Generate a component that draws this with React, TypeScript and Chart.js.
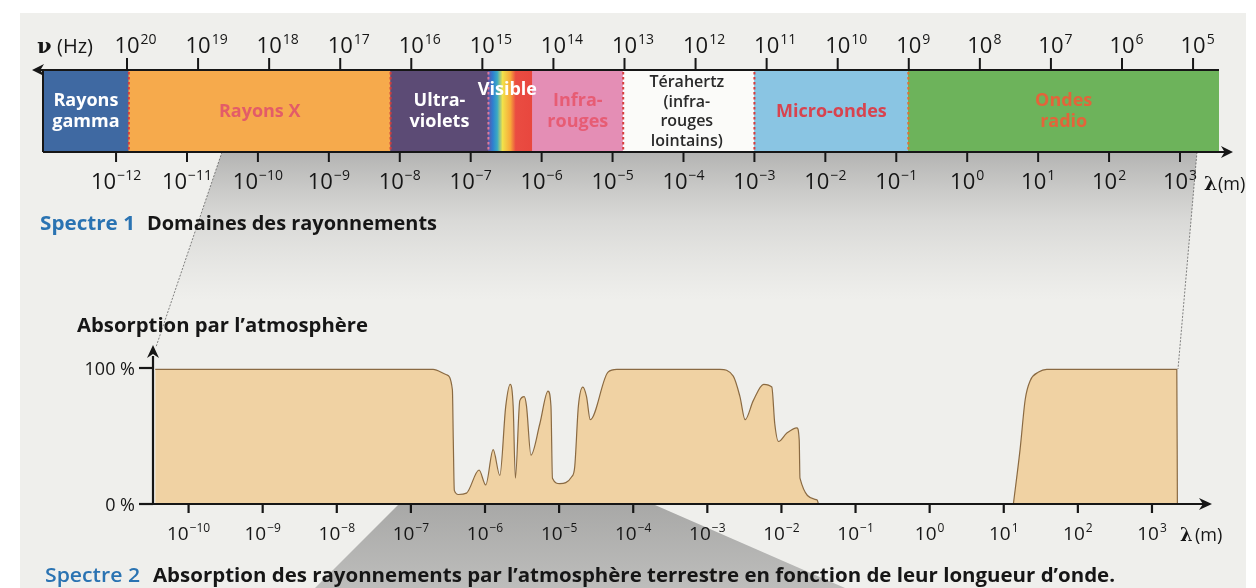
import React, { useEffect, useRef } from 'react';
import { Chart, registerables } from 'chart.js';
Chart.register(...registerables);

// ---------- Spectre 1 : domaines des rayonnements (x = log10 λ en m) ----------
const bandNames = ['Rayons gamma', 'Rayons X', 'Ultraviolets', 'Visible', 'Infrarouges', 'Térahertz', 'Micro-ondes', 'Ondes radio'];
const bandLabelLines = [
  ['Rayons', 'gamma'],
  ['Rayons X'],
  ['Ultra-', 'violets'],
  ['Visible'],
  ['Infra-', 'rouges'],
  ['Térahertz', '(infra-', 'rouges', 'lointains)'],
  ['Micro-ondes'],
  ['Ondes', 'radio'],
];
const bandStart = [-13.03, -11.82, -8.13, -6.75, -6.13, -4.85, -3.0, -0.83];
const bandEnd = [-11.82, -8.13, -6.75, -6.13, -4.85, -3.0, -0.83, 3.55];
const bandColors = ['#3f69a2', '#f6aa4c', '#5c4b75', 'rainbow', '#e48eb5', '#fbfbf9', '#8ac5e3', '#6db35b'];
const bandTextColors = ['#ffffff', '#e35c68', '#ffffff', '#ffffff', '#e75c74', '#2a2a2a', '#d8434f', '#e3643a'];
const rainbowColors = ['#5b55aa', '#2f7fd0', '#39a9c4', '#f2e24a', '#f7a83a', '#ea4c42', '#e8473e'];
const rainbowStops = [0, 0.1, 0.2, 0.32, 0.5, 0.62, 1];
const wavelengthExps1 = [-12, -11, -10, -9, -8, -7, -6, -5, -4, -3, -2, -1, 0, 1, 2, 3];
const frequencyExps = [20, 19, 18, 17, 16, 15, 14, 13, 12, 11, 10, 9, 8, 7, 6, 5];
const spectrumRange = [-13.03, 3.55];
const frequencyRange = [4.635, 21.182];

// ---------- Spectre 2 : absorption par l'atmosphère ----------
const absLogLambda = [
  -10.45, -6.70, -6.52, -6.44, -6.428, -6.414, -6.36, -6.25, -6.08, -5.99, -5.89, -5.80, -5.72, -5.66, -5.62, -5.59,
  -5.53, -5.47, -5.44, -5.38, -5.26, -5.15, -5.11, -5.09, -4.99, -4.83, -4.79, -4.74, -4.68, -4.63, -4.58, -4.34,
  -4.22, -2.83, -2.65, -2.56, -2.49, -2.38, -2.24, -2.13, -2.09, -2.04, -1.93, -1.79, -1.76, -1.75, -1.52, -1.50,
  -0.2,
  1.13, 1.22, 1.29, 1.36, 1.47, 1.58, 3.335, 3.343,
];
const absPercent = [
  99, 99, 95, 84, 47, 10, 7, 8, 25, 14, 40, 21, 72, 88, 72, 19,
  76, 79, 72, 36, 59, 83, 72, 19, 15, 20, 27, 72, 86, 79, 62, 97,
  99, 99, 94, 79, 62, 76, 88, 86, 59, 46, 52, 56, 47, 19, 3, 0,
  null,
  0, 40, 77, 91, 97, 99, 99, 0,
];
const wavelengthExps2 = [-10, -9, -8, -7, -6, -5, -4, -3, -2, -1, 0, 1, 2, 3];
const absRange = [-10.48, 3.81];
const yTickValues = [0, 100];
const yTickLabels = ['0 %', '100 %'];

const FONT = '"Open Sans", Lato, "DejaVu Sans", sans-serif';
const INK = '#161616';

function expText(e: number) {
  return e < 0 ? '\u2212' + Math.abs(e) : String(e);
}

function drawPow(ctx: CanvasRenderingContext2D, x: number, y: number, e: number, baseSize: number, expSize: number, raise: number, centerOnBase: boolean) {
  ctx.font = `${baseSize}px ${FONT}`;
  const wb = ctx.measureText('10').width;
  const ex = expText(e);
  ctx.font = `${expSize}px ${FONT}`;
  const we = ctx.measureText(ex).width;
  const left = centerOnBase ? x - wb / 2 : x - (wb + we + 1) / 2;
  ctx.textAlign = 'left';
  ctx.textBaseline = 'alphabetic';
  ctx.font = `${baseSize}px ${FONT}`;
  ctx.fillText('10', left, y);
  ctx.font = `${expSize}px ${FONT}`;
  ctx.fillText(ex, left + wb + 1, y - raise);
}

function fillFit(ctx: CanvasRenderingContext2D, text: string, x: number, y: number, w: number) {
  const m = ctx.measureText(text).width;
  ctx.save();
  ctx.translate(x, y);
  ctx.scale(w / m, 1);
  ctx.textAlign = 'left';
  ctx.fillText(text, 0, 0);
  ctx.restore();
}

function arrowHead(ctx: CanvasRenderingContext2D, x: number, y: number, dx: number, dy: number, len = 13, half = 6) {
  const nx = -dy, ny = dx;
  ctx.beginPath();
  ctx.moveTo(x, y);
  ctx.lineTo(x - dx * len + nx * half, y - dy * len + ny * half);
  ctx.lineTo(x - dx * len * 0.7, y - dy * len * 0.7);
  ctx.lineTo(x - dx * len - nx * half, y - dy * len - ny * half);
  ctx.closePath();
  ctx.fill();
}

function line(ctx: CanvasRenderingContext2D, x0: number, y0: number, x1: number, y1: number) {
  ctx.beginPath();
  ctx.moveTo(x0, y0);
  ctx.lineTo(x1, y1);
  ctx.stroke();
}

const spectrumDecor = {
  id: 'spectrumDecor',
  afterDatasetsDraw(chart: any) {
    const { ctx, chartArea: a, scales } = chart;
    const xs = scales.x, xf = scales.xf;
    ctx.save();
    // dotted boundaries
    ctx.lineWidth = 2;
    ctx.setLineDash([2.5, 2.5]);
    for (let i = 1; i < bandStart.length; i++) {
      if (i === 4) continue;
      ctx.strokeStyle = i === 3 ? '#e07a9a' : i === 7 ? '#e2702f' : '#d63c3c';
      const px = xs.getPixelForValue(bandStart[i]);
      line(ctx, px, a.top + 2, px, a.bottom - 1);
    }
    ctx.setLineDash([]);

    // axes
    ctx.strokeStyle = INK;
    ctx.fillStyle = INK;
    ctx.lineWidth = 2;
    line(ctx, a.left - 4, a.top, a.right, a.top);
    arrowHead(ctx, a.left - 11, a.top, -1, 0, 12, 6);
    line(ctx, a.left, a.bottom + 1, a.right + 8, a.bottom + 1);
    arrowHead(ctx, a.right + 14, a.bottom + 1, 1, 0, 12, 6);
    line(ctx, a.left, a.top, a.left, a.bottom + 1);

    // frequency ticks (top)
    for (const e of frequencyExps) {
      const px = xf.getPixelForValue(e);
      line(ctx, px, a.top - 12, px, a.top);
      drawPow(ctx, px, a.top - 17, e, 22, 14, 9, true);
    }
    // wavelength ticks (bottom)
    for (const k of wavelengthExps1) {
      const px = xs.getPixelForValue(k);
      line(ctx, px, a.bottom + 1, px, a.bottom + 11);
      drawPow(ctx, px, a.bottom + 38, k, 22, 14, 9, false);
    }
    // axis names
    ctx.textAlign = 'left';
    ctx.font = `bold 21px "DejaVu Serif", serif`;
    ctx.fillText('\u03bd', 37, a.top - 17);
    ctx.font = `20px ${FONT}`;
    ctx.fillText('(Hz)', 57, a.top - 17);
    ctx.font = `bold 19px "DejaVu Serif", serif`;
    ctx.fillText('\u03bb', a.right - 15, a.bottom + 39);
    ctx.font = `18px ${FONT}`;
    ctx.fillText('(m)', a.right - 1, a.bottom + 39);

    // band labels
    const meta = chart.getDatasetMeta(0);
    const cy = (a.top + a.bottom) / 2;
    meta.data.forEach((el: any, i: number) => {
      const lines = bandLabelLines[i];
      const cx = (el.x + el.base) / 2;
      ctx.fillStyle = bandTextColors[i];
      ctx.textAlign = 'center';
      ctx.textBaseline = 'alphabetic';
      if (i === 5) {
        ctx.font = `600 16px ${FONT}`;
        const lh = 19.5;
        lines.forEach((t, j) => ctx.fillText(t, cx - 2, cy + 6 + (j - (lines.length - 1) / 2) * lh));
      } else if (i === 3) {
        ctx.font = `bold 18px ${FONT}`;
        ctx.fillText(lines[0], cx - 3, a.top + 25);
      } else {
        ctx.font = `bold 18px ${FONT}`;
        const lh = 21;
        lines.forEach((t, j) => ctx.fillText(t, cx, cy + 6 + (j - (lines.length - 1) / 2) * lh));
      }
    });
    ctx.restore();
  },
};

const absorptionDecor = {
  id: 'absorptionDecor',
  beforeDraw(chart: any) {
    const { ctx, width, height } = chart;
    ctx.save();
    ctx.fillStyle = '#ffffff';
    ctx.fillRect(0, 0, width, height);
    ctx.fillStyle = '#efefec';
    ctx.fillRect(20, 13, width - 30, height - 13);

    // upper funnel (projection of spectre 1)
    const g1 = ctx.createLinearGradient(0, 152, 0, 300);
    g1.addColorStop(0, 'rgba(130,130,130,0.55)');
    g1.addColorStop(0.45, 'rgba(150,150,150,0.25)');
    g1.addColorStop(1, 'rgba(170,170,170,0)');
    ctx.fillStyle = g1;
    ctx.beginPath();
    ctx.moveTo(222, 152);
    ctx.lineTo(1197, 152);
    ctx.lineTo(1178, 369);
    ctx.lineTo(156, 347);
    ctx.closePath();
    ctx.fill();
    ctx.strokeStyle = 'rgba(80,80,80,0.7)';
    ctx.lineWidth = 1;
    ctx.setLineDash([2, 1.5]);
    line(ctx, 222, 152, 156, 347);
    line(ctx, 1197, 152, 1178, 369);
    ctx.setLineDash([]);

    // lower funnel
    const g2 = ctx.createLinearGradient(0, 505, 0, 588);
    g2.addColorStop(0, 'rgba(110,110,110,0.55)');
    g2.addColorStop(1, 'rgba(120,120,120,0.42)');
    ctx.fillStyle = g2;
    ctx.beginPath();
    ctx.moveTo(398, 505);
    ctx.lineTo(655, 505);
    ctx.lineTo(845, 588);
    ctx.lineTo(315, 588);
    ctx.closePath();
    ctx.fill();
    ctx.restore();
  },
  afterDraw(chart: any) {
    const { ctx, chartArea: a, scales } = chart;
    const xs = scales.x, ys = scales.y;
    ctx.save();
    ctx.strokeStyle = INK;
    ctx.fillStyle = INK;
    ctx.lineWidth = 2.2;
    const y0 = ys.getPixelForValue(0);
    // axes
    line(ctx, a.left, y0, a.left, a.top - 12);
    arrowHead(ctx, a.left, a.top - 23, 0, -1, 13, 6);
    line(ctx, a.left - 12, y0, a.right - 6, y0);
    arrowHead(ctx, a.right, y0, 1, 0, 13, 6);
    // x ticks
    for (const k of wavelengthExps2) {
      const px = xs.getPixelForValue(k);
      line(ctx, px, y0, px, y0 + 9);
      drawPow(ctx, px, y0 + 36, k, 19, 12, 8, false);
    }
    ctx.textAlign = 'left';
    ctx.font = `bold 18px "DejaVu Serif", serif`;
    ctx.fillText('\u03bb', a.right - 32, y0 + 37);
    ctx.font = `18px ${FONT}`;
    ctx.fillText('(m)', a.right - 17, y0 + 37);
    // y ticks
    yTickValues.forEach((v, i) => {
      const py = ys.getPixelForValue(v);
      line(ctx, a.left - 14, py, a.left, py);
      ctx.font = `18px ${FONT}`;
      ctx.textAlign = 'right';
      ctx.fillText(yTickLabels[i], a.left - 18, py + 7);
    });
    // titles
    ctx.fillStyle = INK;
    ctx.font = `bold 20px ${FONT}`;
    fillFit(ctx, 'Absorption par l\u2019atmosph\u00e8re', 77, 332, 291);

    ctx.fillStyle = '#2a73b2';
    ctx.font = `bold 20px ${FONT}`;
    fillFit(ctx, 'Spectre 1', 40, 230, 95);
    ctx.fillStyle = INK;
    fillFit(ctx, 'Domaines des rayonnements', 147, 230, 290);

    ctx.fillStyle = '#2a73b2';
    ctx.font = `600 20px ${FONT}`;
    fillFit(ctx, 'Spectre 2', 45, 582, 95);
    ctx.fillStyle = INK;
    ctx.font = `bold 20px ${FONT}`;
    fillFit(ctx, 'Absorption des rayonnements par l\u2019atmosph\u00e8re terrestre en fonction de leur longueur d\u2019onde.', 153, 582, 962);
    ctx.restore();
  },
};

export default function App() {
  const topRef = useRef<HTMLCanvasElement>(null);
  const bottomRef = useRef<HTMLCanvasElement>(null);

  useEffect(() => {
    const bottom = new Chart(bottomRef.current as HTMLCanvasElement, {
      type: 'line',
      data: {
        datasets: [
          {
            label: 'Absorption',
            data: absLogLambda.map((x, i) => ({ x, y: absPercent[i] })) as any,
            fill: 'origin',
            backgroundColor: '#f0d2a3',
            borderColor: '#8a6a42',
            borderWidth: 1.2,
            pointRadius: 0,
            cubicInterpolationMode: 'monotone',
            spanGaps: false,
            clip: false as any,
          },
        ],
      },
      options: {
        responsive: false,
        animation: false,
        devicePixelRatio: 1,
        layout: { padding: { left: 153, right: 44, top: 368, bottom: 84 } },
        scales: {
          x: { type: 'linear', min: absRange[0], max: absRange[1], display: false },
          y: { type: 'linear', min: 0, max: 100, display: false },
        },
        plugins: { legend: { display: false }, tooltip: { enabled: false } },
      },
      plugins: [absorptionDecor],
    });

    const top = new Chart(topRef.current as HTMLCanvasElement, {
      type: 'bar',
      data: {
        labels: ['spectre'],
        datasets: [
          {
            label: 'Domaines',
            data: bandStart.map((s, i) => ({ y: 'spectre', x: [s, bandEnd[i]], name: bandNames[i] })) as any,
            backgroundColor: (c: any) => {
              const i = c.dataIndex;
              const col = bandColors[i];
              if (col !== 'rainbow') return col;
              const chart = c.chart;
              const xs = chart.scales && chart.scales.x;
              if (!xs || !chart.chartArea) return '#f2c040';
              const x0 = xs.getPixelForValue(bandStart[i]);
              const x1 = xs.getPixelForValue(bandEnd[i]);
              const g = chart.ctx.createLinearGradient(x0, 0, x1, 0);
              rainbowColors.forEach((cc, j) => g.addColorStop(rainbowStops[j], cc));
              return g;
            },
            borderWidth: 0,
            barPercentage: 1,
            categoryPercentage: 1,
          },
        ],
      },
      options: {
        indexAxis: 'y',
        responsive: false,
        animation: false,
        devicePixelRatio: 1,
        layout: { padding: { left: 43, right: 37, top: 70, bottom: 49 } },
        scales: {
          x: { type: 'linear', min: spectrumRange[0], max: spectrumRange[1], display: false },
          xf: { type: 'linear', axis: 'x', position: 'top', reverse: true, min: frequencyRange[0], max: frequencyRange[1], display: false },
          y: { type: 'category', display: false },
        },
        plugins: { legend: { display: false }, tooltip: { enabled: false } },
      },
      plugins: [spectrumDecor],
    });

    return () => {
      top.destroy();
      bottom.destroy();
    };
  }, []);

  return (
    <div style={{ position: 'fixed', left: 0, top: 0, width: 1256, height: 588 }}>
      <canvas ref={bottomRef} width={1256} height={588} style={{ position: 'absolute', left: 0, top: 0 }} />
      <canvas ref={topRef} width={1256} height={200} style={{ position: 'absolute', left: 0, top: 0 }} />
    </div>
  );
}
